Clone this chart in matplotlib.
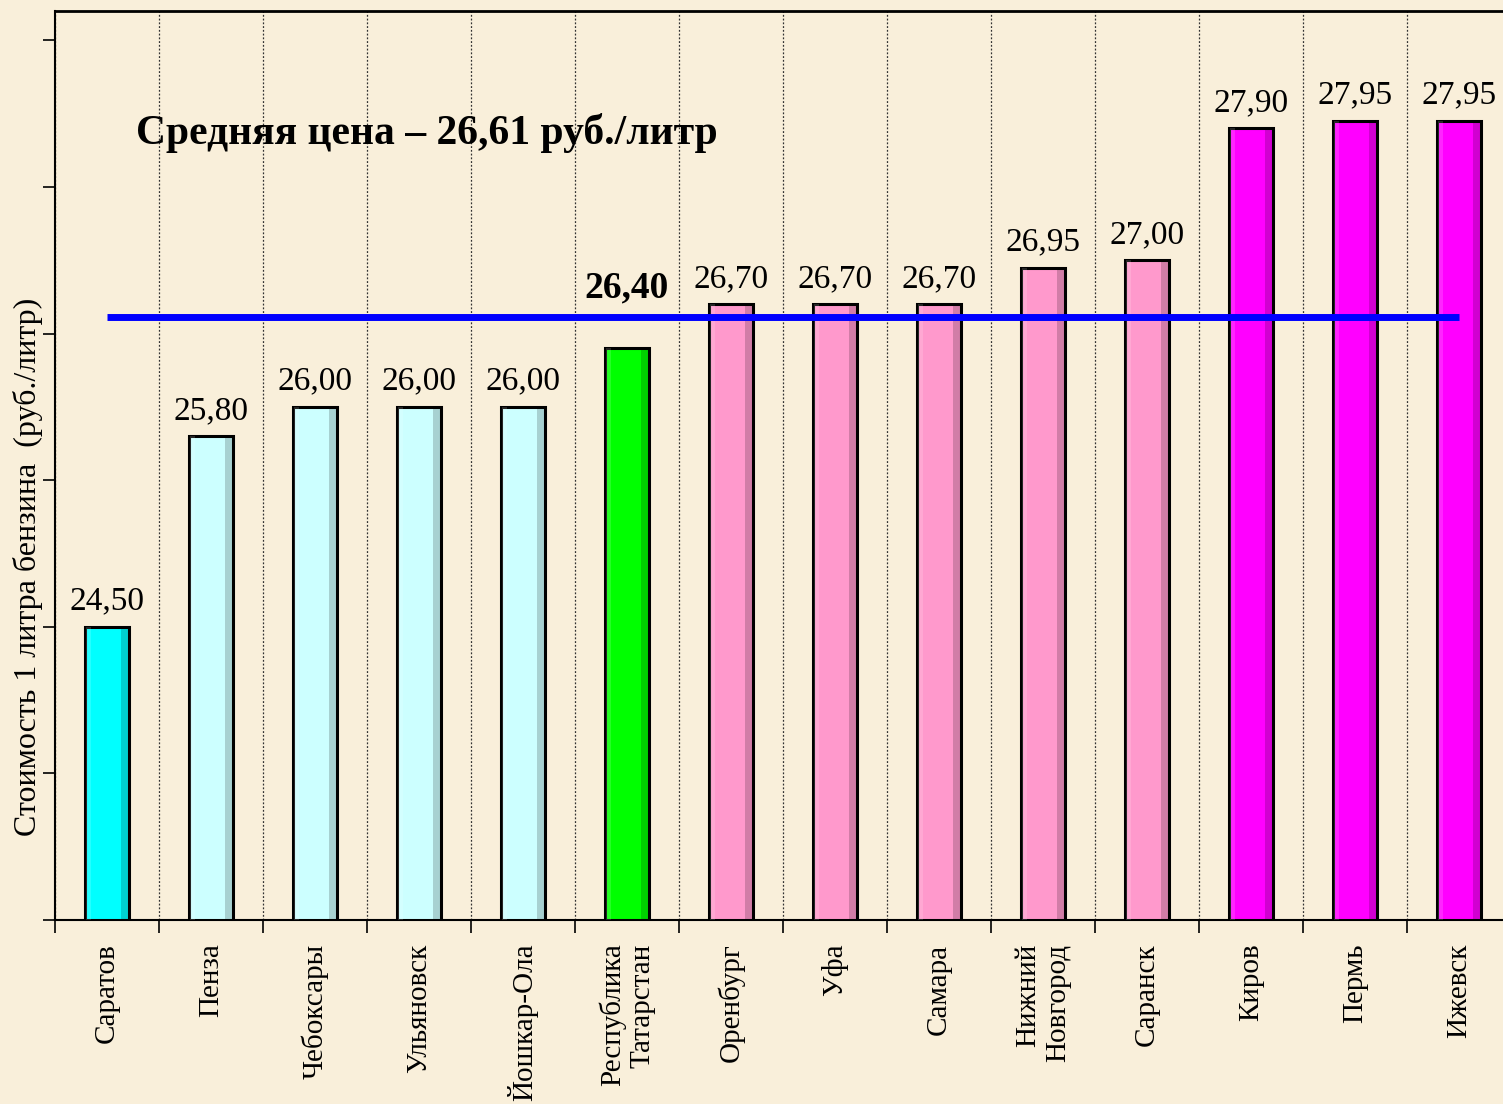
import numpy as np
import matplotlib
matplotlib.use("Agg")
from matplotlib import pyplot as plt

# данные
cities = ["Саратов", "Пенза", "Чебоксары", "Ульяновск", "Йошкар-Ола",
          "Республика\nТатарстан", "Оренбург", "Уфа", "Самара",
          "Нижний\nНовгород", "Саранск", "Киров", "Пермь", "Ижевск"]
prices = [24.50, 25.80, 26.00, 26.00, 26.00, 26.40, 26.70, 26.70, 26.70,
          26.95, 27.00, 27.90, 27.95, 27.95]
colors = ["#00FFFF", "#CCFFFF", "#CCFFFF", "#CCFFFF", "#CCFFFF", "#00FF00",
          "#FF99CC", "#FF99CC", "#FF99CC", "#FF99CC", "#FF99CC",
          "#FF00FF", "#FF00FF", "#FF00FF"]
avg_price = 26.61
highlight = 5  # Татарстан

plt.rcParams['font.family'] = ['Liberation Serif', 'DejaVu Serif']

bg = "#F9EFDA"
fig = plt.figure(figsize=(15.03, 11.04), dpi=100, facecolor=bg)
ax = fig.add_axes([55/1503, 1 - 920/1104, 1456/1503, 909/1104])
ax.set_facecolor(bg)

x = np.arange(len(cities))
ymin, ymax = 22.5, 28.7
heights = np.array(prices) - ymin

# столбики с лёгким объёмом
w = 0.42
ax.bar(x, heights, bottom=ymin, width=w, color=colors, edgecolor="black",
       linewidth=2.2, zorder=3)
ax.bar(x + w/2 - 0.04, heights, bottom=ymin, width=0.07, color="black",
       alpha=0.18, linewidth=0, zorder=3.5)
ax.bar(x - w/2 + 0.03, heights, bottom=ymin, width=0.05, color="white",
       alpha=0.15, linewidth=0, zorder=3.5)

# средняя линия
ax.plot([x[0], x[-1]], [avg_price, avg_price], color="#0000FF", lw=5, zorder=4,
        solid_capstyle="butt")

# подписи значений
for i, p in enumerate(prices):
    lbl = f"{p:.2f}".replace(".", ",")
    if i == highlight:
        ax.text(x[i], avg_price + 0.08, lbl, ha="center", va="bottom",
                fontsize=27, fontweight="bold", zorder=5)
    else:
        ax.text(x[i], p + 0.07, lbl, ha="center", va="bottom",
                fontsize=24, zorder=5)

ax.text(0.28, 27.87, "Средняя цена – 26,61 руб./литр", fontsize=30,
        fontweight="bold", ha="left", va="center", zorder=5)

ax.set_xlim(-0.5, len(cities) - 0.5)
ax.set_ylim(ymin, ymax)

ax.set_yticks(np.arange(22.5, 28.6, 1.0))
ax.set_yticklabels([])
ax.tick_params(axis="y", direction="out", length=9, width=1.2)

ax.set_xticks(x)
ax.set_xticklabels(cities, rotation=90, fontsize=21, va="top", ha="center",
                   multialignment="right")
ax.tick_params(axis="x", which="major", length=0, pad=17)
ax.set_xticks(np.arange(-0.5, len(cities) - 0.4, 1.0), minor=True)
ax.tick_params(axis="x", which="minor", direction="out", length=9, width=1.2)
ax.grid(axis="x", which="minor", color="#333333", linestyle=(0, (1.5, 1.5)),
        linewidth=0.9, zorder=1)

for s in ax.spines.values():
    s.set_linewidth(2)
ax.spines["left"].set_linewidth(1.5)
ax.spines["bottom"].set_linewidth(1.5)

fig.text(28/1503, 1 - 567/1104, "Стоимость 1 литра бензина  (руб./литр)",
         rotation=90, fontsize=23, ha="center", va="center")

fig.savefig("out.png", dpi=100, facecolor=bg)
